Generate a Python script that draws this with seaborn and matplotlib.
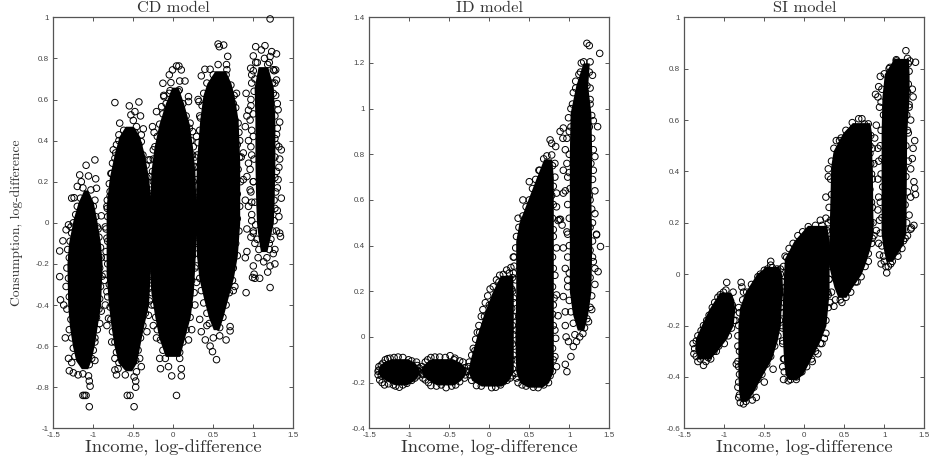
import numpy as np
import matplotlib
matplotlib.use("Agg")
import matplotlib.pyplot as plt
import seaborn as sns

titles = ["CD model", "ID model", "SI model"]
xticks = [-1.5, -1, -0.5, 0, 0.5, 1, 1.5]
cd_yticks = [-1, -0.8, -0.6, -0.4, -0.2, 0, 0.2, 0.4, 0.6, 0.8, 1]
id_yticks = [-0.4, -0.2, 0, 0.2, 0.4, 0.6, 0.8, 1, 1.2, 1.4]
si_yticks = [-0.6, -0.4, -0.2, 0, 0.2, 0.4, 0.6, 0.8, 1]

# solid part of each income group: (y, x left, x right)
cd_cores = [
    [(0.16, -1.12, -1.07), (0.1, -1.19, -1.0), (0.02, -1.25, -0.96), (-0.1, -1.31, -0.91), (-0.2, -1.33, -0.89), (-0.4, -1.32, -0.91), (-0.5, -1.3, -0.95), (-0.6, -1.26, -0.99), (-0.67, -1.22, -1.03), (-0.71, -1.15, -1.07)],
    [(0.47, -0.6, -0.5), (0.42, -0.68, -0.42), (0.33, -0.74, -0.36), (0.22, -0.8, -0.31), (0.08, -0.84, -0.27), (-0.1, -0.84, -0.27), (-0.25, -0.84, -0.29), (-0.4, -0.81, -0.31), (-0.5, -0.78, -0.37), (-0.6, -0.74, -0.42), (-0.68, -0.69, -0.46), (-0.72, -0.6, -0.52)],
    [(0.66, -0.02, 0.06), (0.58, -0.1, 0.13), (0.48, -0.18, 0.2), (0.37, -0.24, 0.24), (0.25, -0.28, 0.27), (0.0, -0.3, 0.29), (-0.2, -0.3, 0.27), (-0.34, -0.28, 0.25), (-0.46, -0.23, 0.21), (-0.56, -0.18, 0.14), (-0.65, -0.1, 0.08)],
    [(0.74, 0.52, 0.65), (0.68, 0.42, 0.72), (0.62, 0.37, 0.76), (0.5, 0.33, 0.81), (0.3, 0.29, 0.83), (0.0, 0.27, 0.83), (-0.16, 0.29, 0.8), (-0.27, 0.32, 0.75), (-0.37, 0.38, 0.68), (-0.46, 0.44, 0.62), (-0.52, 0.5, 0.57)],
    [(0.76, 1.06, 1.18), (0.66, 1.01, 1.25), (0.5, 1.02, 1.27), (0.3, 1.02, 1.27), (0.1, 1.03, 1.26), (0.0, 1.04, 1.25), (-0.07, 1.06, 1.21), (-0.14, 1.09, 1.17)],
]
id_cores = [
    [(-0.095, -1.22, -1.02), (-0.11, -1.33, -0.94), (-0.13, -1.38, -0.89), (-0.15, -1.4, -0.87), (-0.17, -1.37, -0.89), (-0.19, -1.3, -0.94), (-0.21, -1.18, -1.03)],
    [(-0.095, -0.72, -0.46), (-0.11, -0.79, -0.37), (-0.13, -0.84, -0.31), (-0.15, -0.85, -0.29), (-0.17, -0.83, -0.31), (-0.19, -0.76, -0.36), (-0.21, -0.66, -0.44)],
    [(0.27, 0.14, 0.29), (0.2, 0.04, 0.3), (0.1, -0.07, 0.3), (0.0, -0.16, 0.3), (-0.1, -0.24, 0.3), (-0.15, -0.27, 0.3), (-0.19, -0.22, 0.24), (-0.215, -0.1, 0.15)],
    [(0.78, 0.68, 0.78), (0.7, 0.59, 0.8), (0.6, 0.48, 0.8), (0.5, 0.37, 0.8), (0.42, 0.33, 0.8), (0.2, 0.33, 0.8), (0.0, 0.32, 0.8), (-0.15, 0.33, 0.8), (-0.2, 0.38, 0.74), (-0.22, 0.48, 0.66)],
    [(1.2, 1.17, 1.25), (1.1, 1.08, 1.23), (0.98, 1.01, 1.27), (0.8, 1.0, 1.28), (0.6, 1.0, 1.27), (0.4, 1.0, 1.28), (0.2, 1.0, 1.27), (0.1, 1.04, 1.23), (0.03, 1.1, 1.18)],
]
si_cores = [
    [(-0.07, -1.06, -0.92), (-0.1, -1.12, -0.88), (-0.14, -1.2, -0.87), (-0.2, -1.29, -0.89), (-0.25, -1.36, -0.97), (-0.29, -1.37, -1.07), (-0.33, -1.33, -1.18)],
    [(0.03, -0.48, -0.32), (0.0, -0.6, -0.28), (-0.07, -0.74, -0.27), (-0.13, -0.81, -0.29), (-0.2, -0.83, -0.3), (-0.26, -0.83, -0.34), (-0.33, -0.83, -0.41), (-0.39, -0.83, -0.52), (-0.46, -0.82, -0.64), (-0.495, -0.8, -0.72)],
    [(0.19, 0.04, 0.28), (0.13, -0.13, 0.31), (0.06, -0.25, 0.31), (-0.07, -0.27, 0.31), (-0.2, -0.28, 0.27), (-0.27, -0.27, 0.18), (-0.33, -0.26, 0.08), (-0.39, -0.24, -0.02), (-0.41, -0.2, -0.1)],
    [(0.59, 0.6, 0.82), (0.55, 0.48, 0.84), (0.48, 0.36, 0.84), (0.42, 0.33, 0.85), (0.16, 0.31, 0.86), (0.1, 0.3, 0.82), (0.04, 0.3, 0.76), (0.0, 0.33, 0.71), (-0.05, 0.37, 0.6), (-0.09, 0.42, 0.52)],
    [(0.84, 1.12, 1.3), (0.78, 1.0, 1.31), (0.69, 0.97, 1.31), (0.55, 0.96, 1.28), (0.16, 0.96, 1.27), (0.11, 0.98, 1.22), (0.05, 1.02, 1.1)],
]

# loose circles around the solid parts: (income, consumption)
cd_points = [
    (-1.09, 0.28), (-0.98, 0.306), (-1.17, 0.233), (-1.06, 0.228), (-0.97, 0.214), (-1.2, 0.177), (-1.27, 0.12), (-1.24, 0.122),
    (-1.31, -0.01), (-1.34, -0.034), (-1.28, -0.02), (-0.98, 0.11), (-0.96, 0.168), (-0.9, 0.034), (-0.94, -0.03), (-1.15, 0.2),
    (-1.42, -0.137), (-1.38, -0.088), (-1.42, -0.262), (-1.41, -0.375), (-1.37, -0.4), (-1.35, -0.56), (-1.31, -0.66), (-1.3, -0.72),
    (-1.25, -0.73), (-1.19, -0.74), (-1.13, -0.735), (-1.05, -0.69), (-0.98, -0.67), (-1.06, -0.745), (-1.05, -0.77), (-1.04, -0.795),
    (-1.13, -0.84), (-1.11, -0.84), (-1.09, -0.84), (-1.05, -0.895), (-0.98, -0.56), (-0.92, -0.49), (-0.9, -0.43), (-0.86, -0.28),
    (-0.73, 0.585), (-0.55, 0.569), (-0.43, 0.588), (-0.48, 0.541), (-0.53, 0.525), (-0.41, 0.52), (-0.5, 0.498), (-0.67, 0.485),
    (-0.46, 0.468), (-0.375, 0.457), (-0.68, 0.428), (-0.4, 0.428), (-0.71, 0.38), (-0.75, 0.355), (-0.4, 0.395), (-0.73, 0.314),
    (-0.77, 0.24), (-0.79, 0.152), (-0.825, 0.11), (-0.825, 0.07), (-0.85, -0.02), (-0.31, 0.306), (-0.29, 0.225), (-0.27, 0.128),
    (-0.83, -0.075), (-0.84, -0.17), (-0.83, -0.335), (-0.85, -0.4), (-0.81, -0.465), (-0.83, -0.5), (-0.77, -0.58), (-0.73, -0.66),
    (-0.73, -0.716), (-0.71, -0.74), (-0.6, -0.74), (-0.69, -0.71), (-0.42, -0.66), (-0.4, -0.7), (-0.46, -0.725), (-0.49, -0.75),
    (-0.47, -0.77), (-0.47, -0.8), (-0.575, -0.84), (-0.54, -0.84), (-0.49, -0.895), (-0.33, -0.53), (-0.31, -0.45),
    (0.04, 0.763), (0.07, 0.763), (-0.01, 0.744), (0.1, 0.744), (-0.05, 0.72), (-0.13, 0.679), (-0.03, 0.682), (0.08, 0.69),
    (0.146, 0.69), (-0.04, 0.643), (0.075, 0.647), (-0.117, 0.614), (0.19, 0.614), (-0.146, 0.565), (-0.21, 0.541), (0.19, 0.59),
    (-0.26, 0.468), (-0.24, 0.44), (0.21, 0.485), (0.24, 0.444), (-0.25, 0.355), (-0.29, 0.306), (0.25, 0.37), (0.27, 0.274),
    (-0.27, -0.4), (-0.25, -0.5), (-0.21, -0.56), (0.23, -0.52), (0.19, -0.57), (-0.17, -0.66), (-0.16, -0.71), (-0.06, -0.7),
    (-0.02, -0.745), (0.1, -0.745), (0.1, -0.71), (0.04, -0.84), (0.08, -0.66), (0.27, -0.4), (0.29, -0.29), (-0.12, 0.62),
    (0.56, 0.87), (0.63, 0.865), (0.575, 0.857), (0.68, 0.81), (0.56, 0.77), (0.665, 0.77), (0.395, 0.747), (0.46, 0.747),
    (0.35, 0.715), (0.67, 0.745), (0.31, 0.6), (0.32, 0.59), (0.79, 0.63), (0.91, 0.63), (0.75, 0.58), (0.33, 0.52),
    (0.81, 0.485), (0.83, 0.4), (0.29, 0.42), (0.27, 0.32), (0.85, 0.32), (0.875, 0.21), (0.9, 0.11), (0.25, 0.05),
    (0.92, -0.03), (0.71, -0.26), (0.77, -0.31), (0.33, -0.47), (0.4, -0.57), (0.46, -0.6), (0.49, -0.627), (0.54, -0.666),
    (0.66, -0.57), (0.71, -0.526), (0.71, -0.505), (0.42, -0.5), (0.35, -0.53), (0.58, -0.55), (0.5, -0.56), (0.75, -0.33),
    (1.21, 0.992), (1.03, 0.857), (1.146, 0.862), (1.1, 0.841), (1.23, 0.833), (1.29, 0.822), (1.0, 0.812), (1.21, 0.809),
    (0.967, 0.752), (1.28, 0.744), (1.25, 0.745), (0.98, 0.72), (1.29, 0.695), (1.05, 0.78), (1.14, 0.8), (1.18, 0.77),
    (1.02, 0.7), (1.24, 0.68), (0.94, 0.548), (0.92, 0.52), (0.9, 0.468), (0.94, 0.4), (0.875, 0.34), (0.94, 0.29),
    (0.92, 0.225), (0.96, 0.16), (0.94, 0.08), (0.98, 0.01), (1.31, 0.55), (1.33, 0.49), (1.29, 0.43), (1.35, 0.355),
    (1.33, 0.31), (1.31, 0.21), (1.35, 0.12), (1.32, 0.03), (1.33, -0.05), (0.97, 0.6), (0.98, 0.45), (0.98, 0.33),
    (1.0, 0.2), (0.98, 0.1), (1.28, 0.62), (1.29, 0.38), (1.29, 0.25), (1.28, 0.15), (1.27, 0.07), (1.0, -0.04),
    (1.34, -0.067), (1.27, -0.13), (1.25, -0.15), (1.27, -0.2), (1.21, -0.21), (0.92, -0.14), (0.9, -0.17), (1.0, -0.21),
    (1.01, -0.25), (1.02, -0.27), (1.08, -0.27), (1.18, -0.24), (1.21, -0.315), (0.91, -0.34), (0.99, -0.266), (0.97, -0.07),
    (1.02, -0.1), (1.06, -0.17), (1.13, -0.19), (1.2, -0.1), (1.24, -0.04),
]
cd_rim = [
    (-1.13, 0.17), (-1.16, 0.12), (-1.2, 0.08), (-1.22, 0.04), (-1.25, 0.0), (-1.27, -0.05), (-1.29, -0.09), (-1.32, -0.13), (-1.3, -0.17), (-1.33, -0.22),
    (-1.31, -0.27), (-1.34, -0.31), (-1.3, -0.36), (-1.33, -0.42), (-1.28, -0.47), (-1.3, -0.52), (-1.27, -0.56), (-1.25, -0.61), (-1.23, -0.65), (-1.27, -0.68),
    (-1.03, 0.16), (-1.0, 0.08), (-0.97, 0.03), (-0.95, -0.02), (-0.93, -0.07), (-0.91, -0.12), (-0.9, -0.17), (-0.92, -0.22), (-0.89, -0.26), (-0.91, -0.31),
    (-0.92, -0.37), (-0.93, -0.42), (-0.96, -0.46), (-0.95, -0.52), (-0.98, -0.58), (-1.0, -0.62), (-1.02, -0.66),
    (-0.62, 0.45), (-0.68, 0.4), (-0.72, 0.34), (-0.76, 0.29), (-0.78, 0.24), (-0.8, 0.19), (-0.79, 0.13), (-0.83, 0.08), (-0.82, 0.03), (-0.84, -0.03),
    (-0.82, -0.09), (-0.84, -0.14), (-0.82, -0.2), (-0.85, -0.25), (-0.8, -0.3), (-0.82, -0.36), (-0.79, -0.41), (-0.78, -0.47), (-0.76, -0.53), (-0.73, -0.58),
    (-0.71, -0.63), (-0.68, -0.68), (-0.48, 0.44), (-0.43, 0.38), (-0.38, 0.33), (-0.34, 0.28), (-0.33, 0.22), (-0.3, 0.16), (-0.29, 0.1), (-0.27, 0.05),
    (-0.28, -0.02), (-0.29, -0.08), (-0.27, -0.14), (-0.3, -0.2), (-0.29, -0.26), (-0.31, -0.32), (-0.3, -0.38), (-0.35, -0.44), (-0.38, -0.5), (-0.41, -0.56),
    (-0.44, -0.62), (-0.47, -0.67),
    (-0.05, 0.63), (-0.09, 0.58), (-0.13, 0.53), (-0.17, 0.48), (-0.2, 0.42), (-0.23, 0.37), (-0.25, 0.31), (-0.26, 0.25), (-0.25, 0.2), (-0.28, 0.14),
    (-0.27, 0.08), (-0.29, 0.02), (-0.27, -0.04), (-0.29, -0.1), (-0.27, -0.16), (-0.29, -0.22), (-0.26, -0.28), (-0.27, -0.34), (-0.24, -0.4), (-0.22, -0.46),
    (-0.2, -0.52), (-0.16, -0.57), (-0.13, -0.62), (-0.1, -0.66), (0.06, 0.64), (0.12, 0.58), (0.16, 0.52), (0.2, 0.46), (0.22, 0.4), (0.24, 0.33),
    (0.27, 0.27), (0.25, 0.2), (0.28, 0.14), (0.26, 0.08), (0.29, 0.02), (0.26, -0.04), (0.28, -0.1), (0.24, -0.16), (0.27, -0.22), (0.23, -0.28),
    (0.26, -0.34), (0.2, -0.4), (0.21, -0.46), (0.16, -0.52), (0.12, -0.58), (0.08, -0.63),
    (0.5, 0.72), (0.42, 0.68), (0.38, 0.63), (0.36, 0.57), (0.34, 0.51), (0.33, 0.45), (0.31, 0.39), (0.3, 0.33), (0.32, 0.27), (0.29, 0.21),
    (0.31, 0.15), (0.28, 0.09), (0.3, 0.03), (0.28, -0.03), (0.3, -0.09), (0.31, -0.15), (0.29, -0.21), (0.33, -0.27), (0.35, -0.33), (0.38, -0.39),
    (0.42, -0.44), (0.45, -0.49), (0.66, 0.72), (0.72, 0.67), (0.76, 0.62), (0.78, 0.56), (0.77, 0.5), (0.82, 0.44), (0.8, 0.38), (0.83, 0.32),
    (0.81, 0.26), (0.84, 0.2), (0.8, 0.14), (0.83, 0.08), (0.8, 0.02), (0.82, -0.04), (0.78, -0.1), (0.8, -0.16), (0.75, -0.22), (0.74, -0.28),
    (0.7, -0.34), (0.66, -0.4), (0.62, -0.46), (0.58, -0.51),
    (1.03, 0.78), (1.0, 0.74), (0.98, 0.68), (1.01, 0.64), (0.97, 0.57), (1.0, 0.53), (0.96, 0.5), (1.0, 0.42), (0.97, 0.37), (1.01, 0.31),
    (0.96, 0.26), (1.0, 0.2), (0.97, 0.15), (1.02, 0.1), (0.98, 0.04), (1.03, -0.01), (1.0, -0.05), (1.05, -0.08), (1.07, -0.13),
    (1.2, 0.78), (1.26, 0.74), (1.27, 0.68), (1.25, 0.63), (1.3, 0.58), (1.27, 0.52), (1.3, 0.46), (1.27, 0.41), (1.32, 0.37), (1.27, 0.32),
    (1.32, 0.27), (1.27, 0.22), (1.3, 0.17), (1.26, 0.11), (1.3, 0.06), (1.26, 0.01), (1.29, -0.04), (1.22, -0.08), (1.2, -0.13), (1.17, -0.17),
]
id_points = [
    (-1.14, -0.088), (-1.24, -0.093), (-1.3, -0.1), (-1.35, -0.123), (-1.39, -0.166), (-1.37, -0.188), (-1.31, -0.21), (-1.125, -0.22),
    (-1.03, -0.203), (-0.93, -0.18), (-0.875, -0.137), (-0.91, -0.11), (-1.01, -0.1), (-1.2, -0.21), (-1.38, -0.145),
    (-0.68, -0.088), (-0.49, -0.082), (-0.77, -0.1), (-0.825, -0.145), (-0.8, -0.188), (-0.73, -0.213), (-0.54, -0.222), (-0.37, -0.196),
    (-0.3, -0.166), (-0.33, -0.11), (-0.43, -0.093), (-0.6, -0.21), (-0.83, -0.165),
    (-0.24, -0.166), (-0.26, -0.13), (-0.16, -0.213), (0.03, -0.222), (0.175, -0.196), (0.26, -0.18), (-0.18, -0.06), (-0.12, 0.02),
    (-0.06, 0.09), (0.0, 0.14), (0.175, 0.274), (0.217, 0.293), (0.27, 0.304), (0.3, 0.35), (0.29, 0.2), (0.28, 0.125),
    (0.29, 0.05), (0.3, -0.08), (0.29, -0.14), (0.12, 0.24), (0.25, 0.28), (0.3, 0.28),
    (0.76, 0.863), (0.78, 0.848), (0.83, 0.834), (0.72, 0.793), (0.78, 0.797), (0.82, 0.76), (0.82, 0.7), (0.84, 0.63),
    (0.8, 0.58), (0.875, 0.515), (0.84, 0.57), (0.84, 0.39), (0.82, 0.27), (0.84, 0.184), (0.8, 0.14), (0.86, 0.093),
    (0.82, 0.03), (0.83, -0.006), (0.82, -0.086), (0.84, -0.13), (0.76, -0.17), (0.61, -0.222), (0.41, -0.21), (0.34, -0.18),
    (0.31, 0.15), (0.31, 0.35), (0.86, 0.51), (0.36, 0.52), (0.42, 0.6), (0.5, 0.68), (0.62, 0.73), (0.8, 0.44),
    (1.22, 1.286), (1.25, 1.276), (1.38, 1.242), (1.18, 1.205), (1.26, 1.205), (1.29, 1.146), (1.26, 1.09), (1.26, 1.04),
    (0.885, 0.9), (0.925, 0.915), (1.3, 0.947), (1.354, 0.921), (0.92, 0.87), (0.95, 0.82), (0.97, 0.76), (1.3, 0.82),
    (1.32, 0.79), (0.925, 0.73), (1.3, 0.73), (0.95, 0.64), (1.32, 0.64), (0.925, 0.63), (1.32, 0.54), (0.89, 0.515),
    (1.34, 0.45), (0.91, 0.49), (1.39, 0.396), (1.34, 0.447), (0.925, 0.39), (0.95, 0.3), (1.32, 0.3), (1.36, 0.286),
    (0.925, 0.177), (0.95, 0.11), (1.32, 0.23), (1.24, 0.067), (0.95, 0.05), (0.99, -0.02), (0.96, 0.0), (1.02, -0.086),
    (0.95, -0.12), (0.97, -0.152), (1.09, -0.02), (1.05, -0.042), (1.17, 0.015), (1.0, 0.72), (1.0, 0.9), (1.04, 1.02),
    (1.08, 1.09), (1.14, 1.16), (0.98, 0.45), (0.98, 0.25), (1.28, 0.12), (1.26, 0.6), (1.29, 0.5), (1.29, 0.35),
]
id_rim = [
    (-1.19, -0.09), (-1.08, -0.09), (-1.27, -0.095), (-0.97, -0.105), (-1.33, -0.115), (-0.9, -0.125), (-1.38, -0.13), (-0.88, -0.15), (-1.39, -0.15), (-0.9, -0.17),
    (-0.97, -0.19), (-1.08, -0.21), (-1.17, -0.215), (-1.26, -0.205), (-1.34, -0.2), (-1.35, -0.17),
    (-0.73, -0.09), (-0.62, -0.088), (-0.55, -0.09), (-0.44, -0.1), (-0.8, -0.11), (-0.37, -0.105), (-0.84, -0.13), (-0.31, -0.135), (-0.84, -0.16), (-0.29, -0.15),
    (-0.31, -0.18), (-0.42, -0.21), (-0.47, -0.215), (-0.66, -0.215), (-0.76, -0.2), (-0.83, -0.18),
    (-0.27, -0.15), (-0.25, -0.11), (-0.22, -0.08), (-0.2, -0.05), (-0.17, -0.01), (-0.15, 0.02), (-0.13, 0.05), (-0.1, 0.09), (-0.08, 0.12), (-0.05, 0.15),
    (-0.02, 0.18), (0.01, 0.21), (0.05, 0.22), (0.09, 0.25), (0.13, 0.27), (-0.22, -0.19), (-0.1, -0.215), (0.08, -0.22), (0.14, -0.21), (0.22, -0.19),
    (0.29, 0.26), (0.28, 0.21), (0.3, 0.17), (0.29, 0.09), (0.3, 0.01), (0.29, -0.03), (0.28, -0.1), (0.29, -0.17),
    (0.68, 0.78), (0.63, 0.73), (0.58, 0.69), (0.54, 0.65), (0.5, 0.6), (0.46, 0.57), (0.42, 0.53), (0.37, 0.48), (0.34, 0.44), (0.33, 0.39),
    (0.31, 0.31), (0.33, 0.25), (0.31, 0.09), (0.33, 0.03), (0.31, -0.04), (0.33, -0.1), (0.33, -0.16), (0.36, -0.2), (0.46, -0.215), (0.55, -0.22),
    (0.79, 0.75), (0.8, 0.66), (0.78, 0.62), (0.79, 0.52), (0.8, 0.47), (0.79, 0.35), (0.8, 0.3), (0.79, 0.22), (0.81, 0.17), (0.79, 0.1),
    (0.8, 0.05), (0.79, -0.05), (0.8, -0.1), (0.79, -0.15), (0.74, -0.2), (0.68, -0.21),
    (1.15, 1.2), (1.12, 1.15), (1.08, 1.12), (1.05, 1.07), (1.02, 1.0), (0.99, 0.96), (1.02, 0.92), (0.97, 0.87), (1.0, 0.8), (0.98, 0.7),
    (1.01, 0.65), (0.98, 0.58), (1.0, 0.52), (0.97, 0.46), (1.0, 0.4), (0.98, 0.35), (1.0, 0.28), (0.98, 0.22), (1.0, 0.16), (1.02, 0.11),
    (1.05, 0.06), (1.07, 0.01), (1.25, 1.16), (1.22, 1.1), (1.26, 1.02), (1.28, 0.97), (1.25, 0.92), (1.28, 0.87), (1.27, 0.76), (1.29, 0.69),
    (1.25, 0.62), (1.28, 0.56), (1.26, 0.48), (1.29, 0.42), (1.26, 0.38), (1.3, 0.33), (1.26, 0.26), (1.28, 0.18), (1.26, 0.13), (1.22, 0.08),
    (1.19, 0.04), (1.13, 0.0),
]
si_points = [
    (-0.97, -0.032), (-0.98, -0.062), (-1.05, -0.08), (-1.12, -0.11), (-1.19, -0.16), (-1.26, -0.2), (-1.33, -0.24), (-1.39, -0.27),
    (-1.38, -0.31), (-1.33, -0.34), (-1.26, -0.355), (-1.2, -0.325), (-1.13, -0.3), (-1.06, -0.24), (-0.98, -0.18), (-0.9, -0.12),
    (-0.89, -0.07), (-0.86, -0.18),
    (-0.79, -0.032), (-0.78, -0.05), (-0.76, -0.07), (-0.82, -0.13), (-0.83, -0.28), (-0.85, -0.35), (-0.82, -0.36), (-0.82, -0.42),
    (-0.82, -0.48), (-0.8, -0.5), (-0.76, -0.505), (-0.6, -0.48), (-0.65, -0.49), (-0.5, -0.42), (-0.39, -0.37), (-0.42, 0.05),
    (-0.42, 0.035), (-0.55, 0.0), (-0.27, -0.07), (-0.3, 0.02), (-0.28, -0.2), (-0.27, -0.26), (-0.25, -0.33), (-0.27, -0.36),
    (-0.22, 0.065), (-0.26, -0.41), (-0.2, -0.415), (-0.1, -0.41), (0.1, -0.34), (0.17, -0.31), (0.22, -0.27), (0.25, -0.25),
    (0.2, 0.21), (0.27, 0.218), (0.3, 0.2), (0.31, 0.03), (0.3, -0.08), (0.32, -0.11), (0.37, -0.125), (0.47, -0.11),
    (0.54, -0.06), (0.66, -0.03), (0.8, 0.05), (0.84, 0.12), (0.68, 0.605), (0.72, 0.605), (0.75, 0.585), (0.4, 0.52),
    (0.46, 0.53), (0.3, 0.41), (0.3, 0.38), (0.82, 0.5), (0.85, 0.49), (0.83, 0.43), (0.87, 0.43), (0.85, 0.37),
    (0.84, 0.28), (0.86, 0.2), (0.87, 0.15), (0.27, 0.3),
    (1.27, 0.87), (1.39, 0.825), (1.32, 0.83), (1.3, 0.82), (1.15, 0.835), (1.07, 0.805), (0.95, 0.77), (0.93, 0.73),
    (0.89, 0.7), (0.92, 0.69), (0.94, 0.65), (0.9, 0.58), (0.88, 0.53), (0.92, 0.49), (0.93, 0.44), (0.92, 0.37),
    (0.93, 0.3), (0.92, 0.25), (0.94, 0.21), (0.9, 0.17), (0.93, 0.12), (1.3, 0.74), (1.35, 0.72), (1.36, 0.69),
    (1.31, 0.65), (1.33, 0.6), (1.3, 0.55), (1.38, 0.52), (1.36, 0.49), (1.35, 0.45), (1.33, 0.41), (1.37, 0.36),
    (1.38, 0.335), (1.39, 0.31), (1.33, 0.3), (1.31, 0.23), (1.33, 0.175), (1.29, 0.15), (1.34, 0.18), (1.37, 0.19),
    (0.94, 0.075), (0.96, 0.04), (1.03, 0.005), (1.0, 0.05), (1.08, 0.04), (1.16, 0.09), (1.24, 0.13), (1.2, 0.12),
]
si_rim = [
    (-1.01, -0.07), (-1.08, -0.09), (-1.15, -0.13), (-1.22, -0.18), (-1.29, -0.22), (-1.35, -0.26), (-1.37, -0.29), (-0.94, -0.09), (-0.89, -0.14), (-0.88, -0.18),
    (-0.91, -0.21), (-0.95, -0.24), (-1.0, -0.27), (-1.07, -0.28), (-1.1, -0.3), (-1.17, -0.33), (-1.23, -0.34), (-1.3, -0.33), (-1.35, -0.32),
    (-0.5, 0.015), (-0.58, -0.01), (-0.66, -0.04), (-0.72, -0.07), (-0.77, -0.1), (-0.81, -0.15), (-0.82, -0.2), (-0.83, -0.24), (-0.81, -0.3), (-0.83, -0.34),
    (-0.81, -0.39), (-0.83, -0.44), (-0.81, -0.47), (-0.73, -0.495), (-0.68, -0.47), (-0.63, -0.44), (-0.58, -0.41), (-0.53, -0.39), (-0.47, -0.35), (-0.42, -0.32),
    (-0.37, -0.28), (-0.33, -0.24), (-0.31, -0.18), (-0.3, -0.13), (-0.28, -0.09), (-0.28, -0.03), (-0.3, 0.0), (-0.34, 0.02), (-0.4, 0.025), (-0.46, 0.02),
    (0.05, 0.185), (-0.02, 0.165), (-0.08, 0.15), (-0.14, 0.12), (-0.19, 0.1), (-0.24, 0.07), (-0.26, 0.03), (-0.27, -0.03), (-0.27, -0.09), (-0.28, -0.15),
    (-0.27, -0.21), (-0.27, -0.27), (-0.26, -0.33), (-0.25, -0.38), (0.14, 0.19), (0.22, 0.19), (0.28, 0.17), (0.3, 0.11), (0.29, 0.05), (0.31, -0.02),
    (0.29, -0.07), (0.3, -0.13), (0.27, -0.18), (0.27, -0.23), (0.2, -0.27), (0.14, -0.3), (0.09, -0.33), (0.03, -0.36), (-0.03, -0.38), (-0.1, -0.4), (-0.17, -0.41),
    (0.6, 0.59), (0.52, 0.56), (0.44, 0.52), (0.37, 0.49), (0.34, 0.44), (0.33, 0.37), (0.34, 0.31), (0.31, 0.26), (0.33, 0.21), (0.31, 0.16),
    (0.3, 0.1), (0.3, 0.04), (0.31, -0.02), (0.34, -0.07), (0.39, -0.1), (0.45, -0.1), (0.8, 0.585), (0.83, 0.54), (0.82, 0.47), (0.84, 0.39),
    (0.82, 0.33), (0.85, 0.26), (0.83, 0.2), (0.85, 0.14), (0.8, 0.08), (0.76, 0.03), (0.71, -0.01), (0.64, -0.03), (0.58, -0.07), (0.52, -0.09),
    (1.15, 0.83), (1.06, 0.8), (1.0, 0.78), (0.97, 0.72), (0.96, 0.67), (0.99, 0.62), (0.96, 0.56), (0.95, 0.5), (0.97, 0.45), (0.96, 0.39),
    (0.98, 0.34), (0.95, 0.28), (0.97, 0.22), (0.95, 0.16), (0.97, 0.11), (0.99, 0.07), (1.02, 0.03), (1.29, 0.84), (1.31, 0.79), (1.29, 0.71),
    (1.31, 0.66), (1.28, 0.62), (1.29, 0.56), (1.27, 0.5), (1.3, 0.44), (1.27, 0.38), (1.29, 0.32), (1.26, 0.27), (1.28, 0.2), (1.26, 0.14),
    (1.22, 0.1), (1.17, 0.07), (1.1, 0.05), (1.05, 0.03),
]


def draw_panel(ax, cores, points, yticks, title):
    for core in cores:
        core = np.array(core)
        ax.fill_betweenx(core[:, 0], core[:, 1], core[:, 2], color="k", lw=0)
    points = np.array(points)
    sns.scatterplot(x=points[:, 0], y=points[:, 1], ax=ax, s=22, marker="o",
                    facecolor="none", edgecolor="k", linewidth=0.7, clip_on=False, zorder=3)
    ax.set_xlim(-1.5, 1.5)
    ax.set_ylim(yticks[0], yticks[-1])
    ax.set_xticks(xticks)
    ax.set_xticklabels(["-1.5", "-1", "-0.5", "0", "0.5", "1", "1.5"], fontfamily="Liberation Sans", fontsize=5.8, color="#444444")
    ax.set_yticks(yticks)
    ax.set_yticklabels([f"{t:g}" for t in yticks], fontfamily="Liberation Sans", fontsize=5.8, color="#444444")
    ax.tick_params(direction="in", length=3, width=0.7, color="#555555", top=True, right=True, bottom=True, left=True, pad=3)
    for s in ax.spines.values():
        s.set_visible(True)
        s.set_color("#555555")
        s.set_linewidth(0.9)
    ax.set_xlabel("Income, log-difference", fontfamily="cmr10", fontsize=13.4, color="#333333", labelpad=0)
    ax.set_title(title, fontfamily="cmr10", fontsize=11.8, color="#333333", pad=3.5)


sns.set_style("white")
fig = plt.figure(figsize=(9.31, 4.63), dpi=100)
W, H = 931, 463
lefts = [53.3, 369.3, 684.3]
axs = [fig.add_axes([l / W, (H - 428.3) / H, 240 / W, 411 / H]) for l in lefts]

draw_panel(axs[0], cd_cores, cd_points + cd_rim, cd_yticks, titles[0])
draw_panel(axs[1], id_cores, id_points + id_rim, id_yticks, titles[1])
draw_panel(axs[2], si_cores, si_points + si_rim, si_yticks, titles[2])
axs[0].set_ylabel("Consumption, log-difference", fontfamily="cmr10", fontsize=9.8, color="#333333", labelpad=9)

fig.savefig("out.png", dpi=100)
